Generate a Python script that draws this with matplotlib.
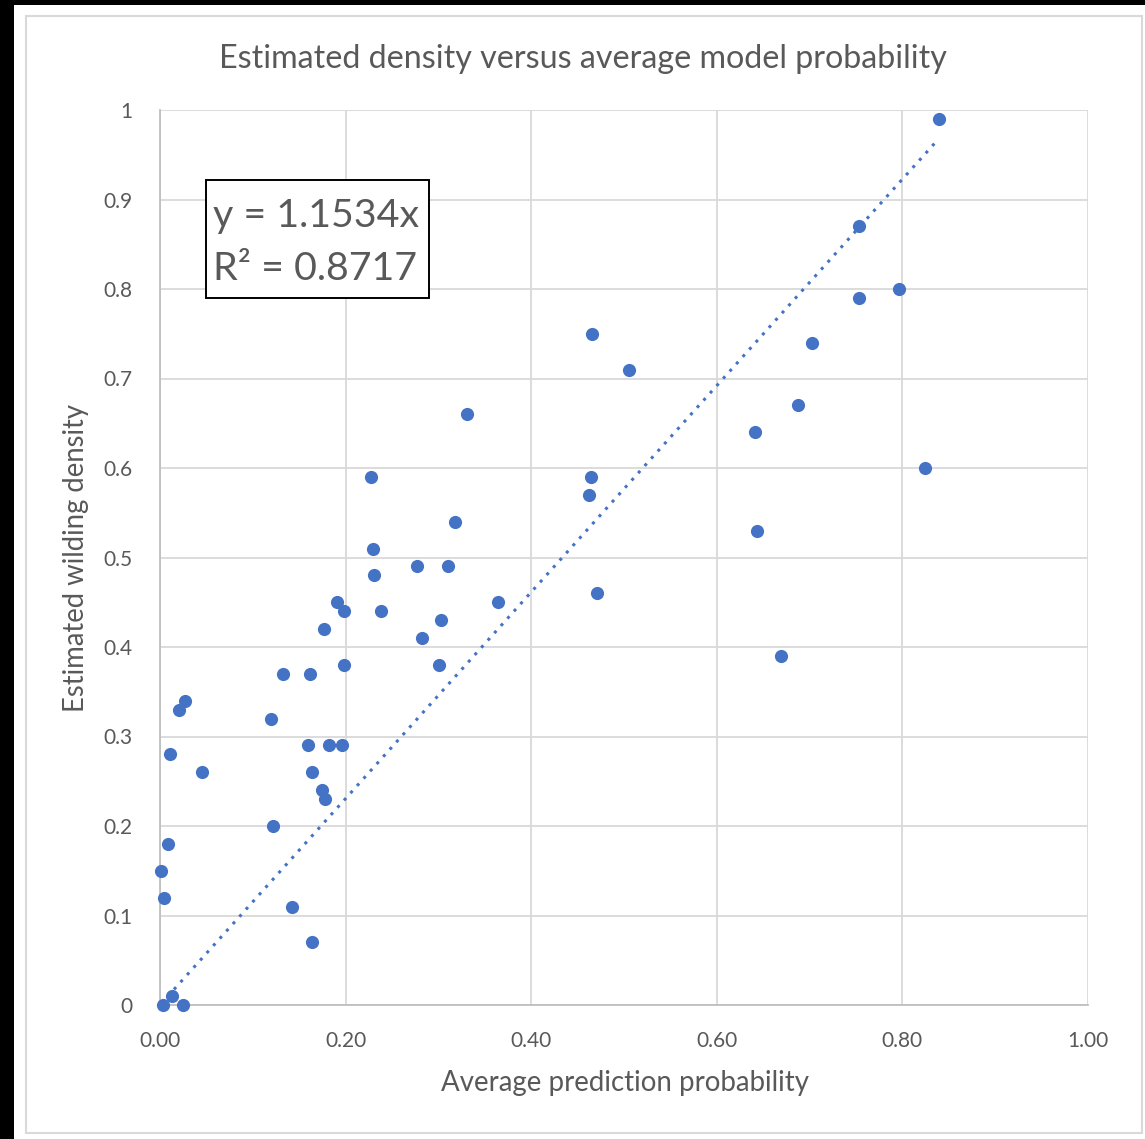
import matplotlib
matplotlib.use("Agg")
import matplotlib.pyplot as plt
from matplotlib.patches import Rectangle
import numpy as np

# ---- data ----
avg_prob = [0.839, 0.753, 0.753, 0.796, 0.703, 0.687, 0.641, 0.824, 0.643, 0.669,
            0.465, 0.505, 0.331, 0.464, 0.462, 0.471, 0.364, 0.318, 0.227, 0.229,
            0.231, 0.277, 0.310, 0.238, 0.303, 0.282, 0.301, 0.191, 0.198, 0.177,
            0.198, 0.133, 0.162, 0.120, 0.159, 0.182, 0.196, 0.164, 0.175, 0.178,
            0.122, 0.142, 0.164, 0.027, 0.020, 0.011, 0.045, 0.009, 0.001, 0.004,
            0.013, 0.003, 0.025]
density = [0.99, 0.87, 0.79, 0.80, 0.74, 0.67, 0.64, 0.60, 0.53, 0.39,
           0.75, 0.71, 0.66, 0.59, 0.57, 0.46, 0.45, 0.54, 0.59, 0.51,
           0.48, 0.49, 0.49, 0.44, 0.43, 0.41, 0.38, 0.45, 0.44, 0.42,
           0.38, 0.37, 0.37, 0.32, 0.29, 0.29, 0.29, 0.26, 0.24, 0.23,
           0.20, 0.11, 0.07, 0.34, 0.33, 0.28, 0.26, 0.18, 0.15, 0.12,
           0.01, 0.00, 0.00]
slope = 1.1534
r_squared = 0.8717
x_ticks = [0.0, 0.2, 0.4, 0.6, 0.8, 1.0]
x_tick_labels = ["0.00", "0.20", "0.40", "0.60", "0.80", "1.00"]
y_ticks = [0.0, 0.1, 0.2, 0.3, 0.4, 0.5, 0.6, 0.7, 0.8, 0.9, 1.0]
y_tick_labels = ["0", "0.1", "0.2", "0.3", "0.4", "0.5", "0.6", "0.7", "0.8", "0.9", "1"]
title = "Estimated density versus average model probability"
x_label = "Average prediction probability"
y_label = "Estimated wilding density"

W, H = 1145, 1139
plt.rcParams['font.family'] = ['Lato', 'DejaVu Sans']
fig = plt.figure(figsize=(W / 100, H / 100), dpi=100)
fig.patch.set_facecolor("white")

def fx(px):
    return px / W

def fy(py):
    return 1 - py / H

# black bands and card border
fig.patches.append(Rectangle((0, fy(5)), 1, 1 - fy(5), transform=fig.transFigure,
                             facecolor="black", edgecolor="none", zorder=-10))
fig.patches.append(Rectangle((0, 0), fx(14), 1, transform=fig.transFigure,
                             facecolor="black", edgecolor="none", zorder=-10))
fig.patches.append(Rectangle((fx(26), fy(1133)), fx(1142) - fx(26), fy(16) - fy(1133),
                             transform=fig.transFigure, facecolor="white",
                             edgecolor="#D9D9D9", linewidth=1.5, zorder=-10))

ax = fig.add_axes([fx(160), fy(1005), fx(1088) - fx(160), fy(110) - fy(1005)])
ax.set_zorder(5)
ax.set_facecolor("none")
ax.set_xlim(0, 1)
ax.set_ylim(0, 1)
ax.set_xticks(x_ticks)
ax.set_xticklabels(x_tick_labels)
ax.set_yticks(y_ticks)
ax.set_yticklabels(y_tick_labels)
ax.tick_params(length=0, colors="#595959", labelsize=15)
ax.tick_params(axis="x", pad=19)
ax.tick_params(axis="y", pad=20)
ax.grid(True, color="#D9D9D9", linewidth=1.3)
ax.set_axisbelow(True)
for s in ["top", "right"]:
    ax.spines[s].set_visible(False)
for s in ["left", "bottom"]:
    ax.spines[s].set_color("#BFBFBF")
    ax.spines[s].set_linewidth(1.3)

ax.scatter(avg_prob, density, s=90, color="#4472C4", zorder=3, linewidths=0, clip_on=False)
xt = np.array([min(avg_prob), max(avg_prob)])
ax.plot(xt, slope * xt, linestyle=(0, (1, 2.2)), color="#4472C4", linewidth=2.2, zorder=2)

# equation box
def dx(px):
    return (px - 160) / 927

def dy(py):
    return (1005 - py) / 895

ax.add_patch(Rectangle((dx(206), dy(298)), dx(429) - dx(206), dy(180) - dy(298),
                       facecolor="white", edgecolor="black", linewidth=1.4, zorder=6))
t_eq1 = ax.text(dx(213), dy(227), f"y = {slope:.4f}x", ha="left", va="baseline",
                color="#595959", fontsize=26, zorder=7)
t_eq2 = ax.text(dx(213), dy(280), f"R² = {r_squared:.4f}", ha="left", va="baseline",
                color="#595959", fontsize=26, zorder=7)

t_title = fig.text(fx(583), fy(59), title, ha="center", va="center", color="#595959", fontsize=19)
t_xl = fig.text(fx(625), fy(1083), x_label, ha="center", va="center", color="#595959", fontsize=15)
t_yl = fig.text(fx(76), fy(558), y_label, ha="center", va="center", rotation=90, color="#595959", fontsize=15)

fig.canvas.draw()
r = fig.canvas.get_renderer()
def fit(t, target, vertical=False):
    bb = t.get_window_extent(r)
    cur = bb.height if vertical else bb.width
    t.set_fontsize(t.get_fontsize() * target / cur)
fit(t_title, 728)
fit(t_xl, 367)
fit(t_yl, 310, vertical=True)
fit(t_eq1, 207)
t_eq2.set_fontsize(t_eq1.get_fontsize())

fig.savefig("out.png", dpi=100, facecolor="white")
